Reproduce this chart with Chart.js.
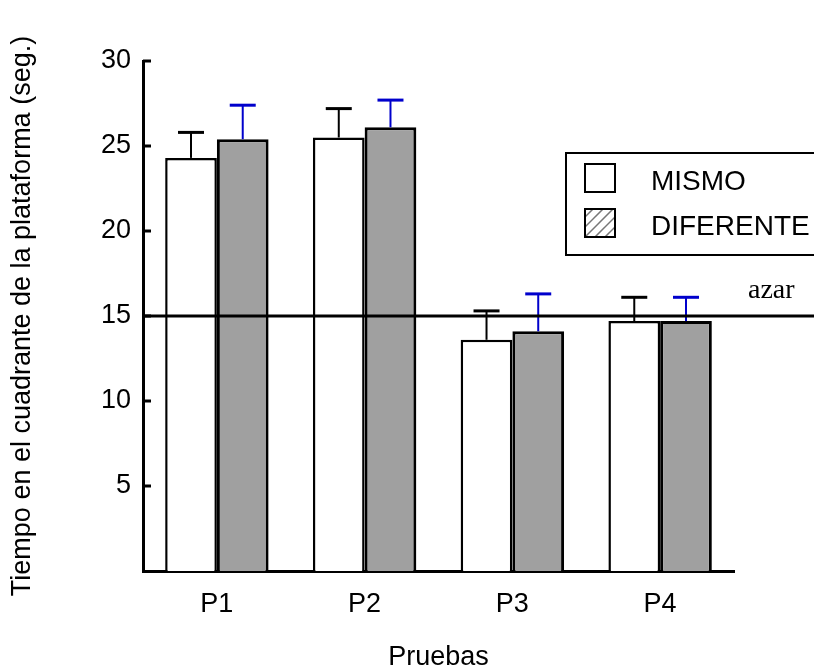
<!DOCTYPE html>
<html>
<head>
<meta charset="utf-8">
<script src="https://cdn.jsdelivr.net/npm/chart.js@4"></script>
<style>
  html, body { margin: 0; padding: 0; background: #fff; }
  #wrap { width: 814px; height: 669px; }
</style>
</head>
<body>
<div id="wrap"><canvas id="chart"></canvas></div>
<script>
var pruebas = ["P1", "P2", "P3", "P4"];
var mismo = [24.3, 25.5, 13.6, 14.7];
var mismoErr = [1.5, 1.7, 1.7, 1.4];
var diferente = [25.4, 26.1, 14.1, 14.7];
var diferenteErr = [2.0, 1.6, 2.2, 1.4];
var azar = 15;
var yTicks = [5, 10, 15, 20, 25, 30];

// upper error bars only
var errorBars = {
    id: "errorBars",
    afterDatasetsDraw: function (chart) {
        var ctx = chart.ctx;
        var y = chart.scales.y;
        chart.data.datasets.forEach(function (ds, i) {
            var meta = chart.getDatasetMeta(i);
            meta.data.forEach(function (bar, j) {
                var top = y.getPixelForValue(ds.data[j] + ds.errors[j]);
                ctx.save();
                ctx.strokeStyle = ds.errorColor;
                ctx.lineWidth = 2;
                ctx.beginPath();
                ctx.moveTo(bar.x, bar.y);
                ctx.lineTo(bar.x, top);
                ctx.stroke();
                ctx.lineWidth = 3;
                ctx.beginPath();
                ctx.moveTo(bar.x - 13, top);
                ctx.lineTo(bar.x + 13, top);
                ctx.stroke();
                ctx.restore();
            });
        });
    }
};

// chance line, inward ticks and the boxed legend
var extras = {
    id: "extras",
    afterDraw: function (chart) {
        var ctx = chart.ctx;
        var y = chart.scales.y;
        var area = chart.chartArea;
        ctx.save();
        ctx.strokeStyle = "#000";
        ctx.lineWidth = 3;
        yTicks.forEach(function (t) {
            var py = y.getPixelForValue(t);
            ctx.beginPath();
            ctx.moveTo(area.left, py);
            ctx.lineTo(area.left + 8, py);
            ctx.stroke();
        });
        var ly = y.getPixelForValue(azar);
        ctx.beginPath();
        ctx.moveTo(area.left, ly);
        ctx.lineTo(chart.width, ly);
        ctx.stroke();
        ctx.fillStyle = "#000";
        ctx.font = "28px 'Liberation Serif'";
        ctx.textAlign = "left";
        ctx.textBaseline = "alphabetic";
        ctx.fillText("azar", 748, ly - 18);

        // legend
        ctx.lineWidth = 2;
        ctx.strokeRect(566, 153, 270, 102);
        ctx.fillStyle = "#fff";
        ctx.fillRect(585, 164, 30, 28);
        ctx.strokeRect(585, 164, 30, 28);
        ctx.strokeRect(585, 209, 30, 28);
        ctx.save();
        ctx.beginPath();
        ctx.rect(586, 210, 28, 26);
        ctx.clip();
        ctx.strokeStyle = "#777";
        ctx.lineWidth = 1.5;
        for (var k = -30; k < 40; k += 10) {
            ctx.beginPath();
            ctx.moveTo(585 + k, 237);
            ctx.lineTo(585 + k + 28, 209);
            ctx.stroke();
        }
        ctx.restore();
        ctx.fillStyle = "#000";
        ctx.font = "28px 'Liberation Sans'";
        ctx.textBaseline = "middle";
        ctx.fillText(chart.data.datasets[0].label, 651, 182);
        ctx.fillText(chart.data.datasets[1].label, 651, 227);
        ctx.restore();
    }
};

new Chart(document.getElementById("chart"), {
    type: "bar",
    data: {
        labels: pruebas,
        datasets: [{
            label: "MISMO",
            data: mismo,
            errors: mismoErr,
            errorColor: "#000",
            backgroundColor: "#fff",
            borderColor: "#000",
            borderWidth: 2.5
        }, {
            label: "DIFERENTE",
            data: diferente,
            errors: diferenteErr,
            errorColor: "#0000cc",
            backgroundColor: "#a0a0a0",
            borderColor: "#000",
            borderWidth: 3
        }]
    },
    options: {
        responsive: true,
        maintainAspectRatio: false,
        animation: false,
        categoryPercentage: 0.7,
        barPercentage: 1.0,
        layout: { padding: { top: 61, right: 80, bottom: 0, left: 0 } },
        plugins: {
            legend: { display: false },
            tooltip: { enabled: false }
        },
        scales: {
            x: {
                grid: { display: false, drawTicks: false },
                border: { color: "#000", width: 3 },
                ticks: { color: "#000", padding: 17, font: { family: "Liberation Sans", size: 27 } },
                title: {
                    display: true,
                    text: "Pruebas",
                    color: "#000",
                    padding: { top: 0, bottom: -5 },
                    font: { family: "Liberation Sans", size: 27 }
                },
                afterFit: function (scale) { scale.height = 98; }
            },
            y: {
                min: 0,
                max: 30,
                grid: { display: false, drawTicks: false },
                border: { color: "#000", width: 3 },
                ticks: {
                    stepSize: 5,
                    color: "#000",
                    padding: 12,
                    font: { family: "Liberation Sans", size: 27 },
                    callback: function (v) { return v === 0 ? "" : v; }
                },
                title: {
                    display: true,
                    text: "Tiempo en el cuadrante de la plataforma (seg.)",
                    color: "#000",
                    padding: { top: 6, bottom: 0 },
                    font: { family: "Liberation Sans", size: 27 }
                },
                afterFit: function (scale) { scale.width = 143; }
            }
        }
    },
    plugins: [errorBars, extras]
});
</script>
</body>
</html>
